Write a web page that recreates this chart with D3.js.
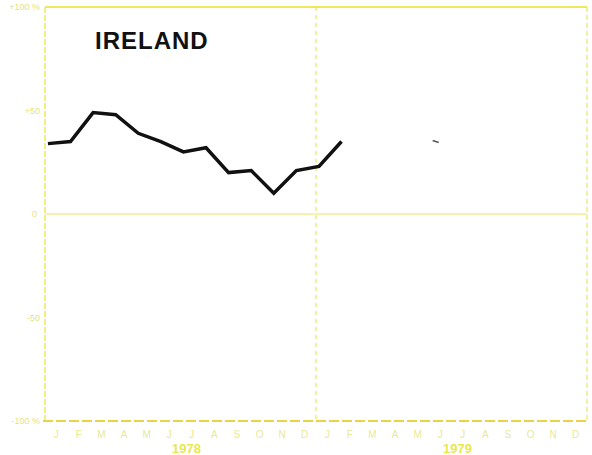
<!DOCTYPE html>
<html>
<head>
<meta charset="utf-8">
<script src="https://cdn.jsdelivr.net/npm/d3@7"></script>
<style>
  body { margin: 0; background: #fff; }
  svg { display: block; }
  .axis-line { stroke: #eaea5a; fill: none; }
  .tick-label { fill: #e4e47c; font-family: "Liberation Sans", Arial, sans-serif; }
</style>
</head>
<body>
<svg width="592" height="455"></svg>
<script>
// months along the bottom, two years
const MONTHS = ["J", "F", "M", "A", "M", "J", "J", "A", "S", "O", "N", "D",
  "J", "F", "M", "A", "M", "J", "J", "A", "S", "O", "N", "D"];
const YEARS = ["1978", "1979"];
const Y_TICKS = [100, 50, 0, -50, -100];
const Y_LABELS = ["+100 %", "+50", "0", "-50", "-100 %"];

// Ireland series, % change, one value per month from Jan 1978
const monthIndex = [0, 1, 2, 3, 4, 5, 6, 7, 8, 9, 10, 11, 12, 13];
const values = [34, 35, 49, 48, 39, 35, 30, 32, 20, 21, 10, 21, 23, 35];

// stray mark printed further right
const strayIndex = [17.3];
const strayValues = [35];

const title = "IRELAND";

const svg = d3.select("svg");
const margin = { left: 45, right: 5, top: 7, bottom: 34 };
const width = +svg.attr("width");
const height = +svg.attr("height");

const x = d3.scaleLinear().domain([0, MONTHS.length]).range([margin.left, width - margin.right]);
const y = d3.scaleLinear().domain([-100, 100]).range([height - margin.bottom, margin.top]);

// frame
svg.append("line").attr("class", "axis-line")
  .attr("x1", x(0)).attr("x2", x(24)).attr("y1", y(100)).attr("y2", y(100))
  .attr("stroke-width", 2).attr("stroke", "#e8ec3c");
svg.append("line").attr("class", "axis-line")
  .attr("x1", x(0)).attr("x2", x(0)).attr("y1", y(100)).attr("y2", y(-100))
  .attr("stroke-width", 1.5).attr("stroke-dasharray", "6,2");
svg.append("line").attr("class", "axis-line")
  .attr("x1", x(24)).attr("x2", x(24)).attr("y1", y(100)).attr("y2", y(-100))
  .attr("stroke-width", 1.2).attr("stroke-dasharray", "5,3");
svg.append("line").attr("class", "axis-line")
  .attr("x1", x(12)).attr("x2", x(12)).attr("y1", y(100)).attr("y2", y(-100))
  .attr("stroke-width", 1.2).attr("stroke-dasharray", "4,4");
svg.append("line").attr("class", "axis-line")
  .attr("x1", x(0)).attr("x2", x(24)).attr("y1", y(0)).attr("y2", y(0))
  .attr("stroke-width", 1.2).attr("stroke", "#f0f0a8");
svg.append("line")
  .attr("x1", x(0) - 2).attr("x2", x(24)).attr("y1", y(-100)).attr("y2", y(-100))
  .attr("stroke", "#ecd246").attr("stroke-width", 2).attr("stroke-dasharray", "10,3");

// y labels
svg.selectAll(".ylab").data(Y_TICKS).join("text")
  .attr("class", "tick-label ylab")
  .attr("x", (d) => (d === 0 ? 37 : 40))
  .attr("y", (d) => y(d) + 3)
  .attr("text-anchor", "end")
  .attr("font-size", 9)
  .text((d, i) => Y_LABELS[i]);

// month labels
svg.selectAll(".mlab").data(MONTHS).join("text")
  .attr("class", "tick-label mlab")
  .attr("x", (d, i) => x(i + 0.5))
  .attr("y", 438)
  .attr("text-anchor", "middle")
  .attr("font-size", 10)
  .attr("fill-opacity", 0.85)
  .text((d) => d);

// year labels
svg.selectAll(".yr").data(YEARS).join("text")
  .attr("class", "yr")
  .attr("x", (d, i) => x(i * 12 + 6) + 6)
  .attr("y", 453)
  .attr("text-anchor", "middle")
  .attr("font-family", "Liberation Sans, Arial, sans-serif")
  .attr("font-weight", "bold")
  .attr("font-size", 13)
  .attr("fill", "#e8e84a")
  .text((d) => d);

// series line
const line = d3.line()
  .x((d) => x(d[0] + 0.13))
  .y((d) => y(d[1]));

svg.append("path")
  .datum(monthIndex.map((m, i) => [m, values[i]]))
  .attr("d", line)
  .attr("fill", "none")
  .attr("stroke", "#111")
  .attr("stroke-width", 3.5)
  .attr("stroke-linejoin", "miter");

svg.selectAll(".stray").data(strayIndex).join("line")
  .attr("class", "stray")
  .attr("x1", (d) => x(d) - 3)
  .attr("x2", (d) => x(d) + 3)
  .attr("y1", (d, i) => y(strayValues[i]) - 1)
  .attr("y2", (d, i) => y(strayValues[i]) + 1)
  .attr("stroke", "#555")
  .attr("stroke-width", 1.5);

// title
svg.append("text")
  .attr("x", 95)
  .attr("y", 49)
  .attr("font-family", "Liberation Sans, Arial, sans-serif")
  .attr("font-weight", "bold")
  .attr("font-size", 24)
  .attr("letter-spacing", 1)
  .attr("fill", "#111")
  .text(title);
</script>
</body>
</html>
